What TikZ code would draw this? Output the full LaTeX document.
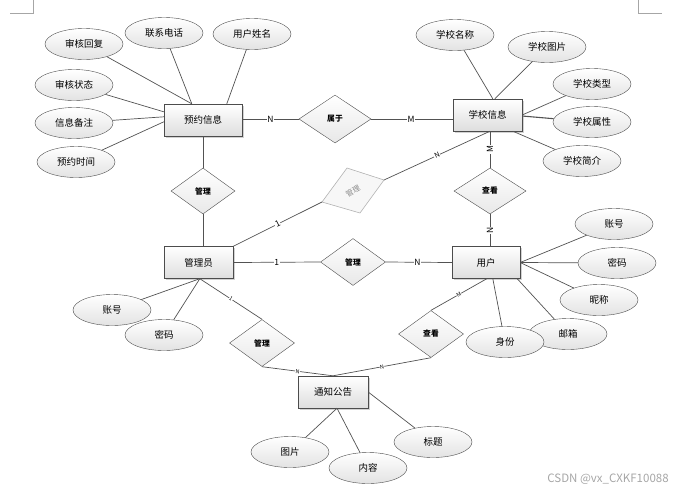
\documentclass[tikz,border=0pt]{standalone}
\usepackage{fontspec}
\setmainfont{Noto Sans CJK SC}
\usetikzlibrary{shapes.geometric,shadows}
\begin{document}
\begin{tikzpicture}[x=1pt,y=-1pt,
  ent/.style={draw=black!70, rectangle, minimum width=69pt, minimum height=32pt, inner sep=0pt,
    top color=white, bottom color=black!13, drop shadow={shadow xshift=1.5pt, shadow yshift=-1.5pt, fill=black!35},
    font=\fontsize{9.5}{11}\selectfont},
  attr/.style={draw=black!70, ellipse, minimum width=78pt, minimum height=31pt, inner sep=0pt,
    top color=white, bottom color=black!11, font=\fontsize{9.5}{11}\selectfont},
  rel/.style={draw=black!70, diamond, minimum width=65pt, minimum height=47pt, inner sep=0pt,
    top color=white, bottom color=black!9, font=\fontsize{7.8}{9}\selectfont\bfseries},
  conn/.style={draw=black!68, line width=0.7pt},
  lab/.style={fill=white, inner sep=0.6pt, font=\fontsize{8.5}{10}\selectfont},
  slab/.style={fill=white, inner sep=0.3pt, font=\fontsize{5.5}{6}\selectfont, sloped},
  corner/.style={draw=black!35, line width=0.5pt}
]
\useasboundingbox (0,0) rectangle (684,493);
% page corner marks
\draw[corner] (10,13) -- (33,13) -- (33,0);
\draw[corner] (638,0) -- (638,13) -- (662,13);

% entities
\node[ent, minimum width=78pt] (yy) at (203,120) {预约信息};
\node[ent] (xx) at (487.5,115) {学校信息};
\node[ent] (gly) at (198.5,262.5) {管理员};
\node[ent, minimum width=68pt] (yh) at (486,262.5) {用户};
\node[ent, minimum width=70pt] (tz) at (333,392) {通知公告};

% relationships
\node[rel, minimum width=72pt, minimum height=48pt] (ds) at (335,119) {属于};
\node[rel, minimum width=64pt, minimum height=46pt] (d1) at (203,191) {管理};
\node[rel, minimum width=72pt, minimum height=46pt] (c1) at (490,191) {查看};
\node[rel] (d2) at (353,262) {管理};
\node[rel] (d5) at (431,334) {查看};
\node[rel] (d4) at (262,343) {管理};

% grey tilted diamond
\coordinate (gl) at (322,202);
\coordinate (gt) at (347,168);
\coordinate (gr) at (384,180);
\coordinate (gb) at (360,213);
\filldraw[draw=black!30, fill=black!3, line width=0.6pt] (gl) -- (gt) -- (gr) -- (gb) -- cycle;
\node[text=black!45, rotate=30, inner sep=0pt, font=\fontsize{7.5}{9}\selectfont] (gd) at (353,191) {管理};

% attributes
\node[attr] (a1) at (84,44) {审核回复};
\node[attr] (a2) at (164,33) {联系电话};
\node[attr] (a3) at (252,34) {用户姓名};
\node[attr] (a4) at (74,85) {审核状态};
\node[attr] (a5) at (74,123) {信息备注};
\node[attr] (a6) at (76,162) {预约时间};
\node[attr] (b1) at (455,35) {学校名称};
\node[attr] (b2) at (547,47) {学校图片};
\node[attr] (b3) at (592,84) {学校类型};
\node[attr] (b4) at (592,122) {学校属性};
\node[attr] (b5) at (582,161) {学校简介};
\node[attr] (u1) at (614,224) {账号};
\node[attr] (u2) at (617,263) {密码};
\node[attr] (u3) at (599,300) {昵称};
\node[attr] (u4) at (568,334) {邮箱};
\node[attr] (g1) at (112,310) {账号};
\node[attr] (g2) at (164,335) {密码};
\node[attr] (t1) at (290,452) {图片};
\node[attr] (t2) at (368,468) {内容};
\node[attr] (t3) at (433,442) {标题};

% attribute connectors
\draw[conn] (a1) -- ([xshift=28pt]yy.north west);
\draw[conn] (a2) -- ([xshift=28pt]yy.north west);
\draw[conn] (a3) -- ([xshift=63pt]yy.north west);
\draw[conn] (a4) -- ([yshift=-8pt]yy.north west);
\draw[conn] (a5) -- ([yshift=-13pt]yy.north west);
\draw[conn] (a6) -- ([yshift=-18pt]yy.north west);
\draw[conn] (b1) -- ([xshift=40pt]xx.north west);
\draw[conn] (b2) -- ([xshift=42pt]xx.north west);
\draw[conn] (b3) -- (xx.east);
\draw[conn, line width=1.1pt] (b4) -- ([yshift=-1pt]xx.east);
\draw[conn] (b5) -- ([xshift=60pt]xx.south west);
\draw[conn] (u1) -- (yh.east);
\draw[conn] (u2) -- (yh.east);
\draw[conn] (u3) -- (yh.east);
\draw[conn] (u4) -- ([xshift=-3pt]yh.south east);
\draw[conn] (g1) -- ([xshift=36pt]gly.south west);
\draw[conn] (g2) -- ([xshift=36pt]gly.south west);
\draw[conn] (t1) -- ([xshift=4pt]tz.south);
\draw[conn] (t2) -- ([xshift=4pt]tz.south);
\draw[conn] (t3) -- (tz.east);
\node[attr] (u5) at (505,342) {身份};
\draw[conn] (u5) -- ([xshift=41pt]yh.south west);

% relationship connectors
\draw[conn] (yy.east |- ds.west) -- node[lab]{N} (ds.west);
\draw[conn] (ds.east) -- node[lab, pos=0.49]{M} (xx.west |- ds.east);
\draw[conn] (yy.south) -- (d1.north);
\draw[conn] (d1.south) -- ([xshift=4.5pt]gly.north);
\draw[conn] ([xshift=2.5pt]xx.south) -- node[lab, rotate=90]{M} (c1.north);
\draw[conn] (c1.south) -- node[lab, rotate=90]{N} ([xshift=4pt]yh.north);
\draw[conn] ([xshift=2.5pt]xx.south) -- node[lab, sloped, font=\fontsize{7}{8}\selectfont]{N} (gr);
\draw[conn] (gl) -- node[lab, sloped]{1} (gly.north east);
\draw[conn] (gly.east) -- node[lab]{1} (d2.west);
\draw[conn] (d2.east) -- node[lab, pos=0.48]{N} (yh.west);
\draw[conn] ([xshift=36pt]gly.south west) -- node[slab]{1} (d4.north);
\draw[conn] (d4.south) -- node[slab]{N} (tz.north);
\draw[conn] ([xshift=35pt]yh.south west) -- node[slab]{M} (d5.north);
\draw[conn] (d5.south) -- node[slab]{N} (tz.north);

% watermark
\node[text=black!35, font=\fontsize{11.5}{13}\selectfont, inner sep=0pt] (wm) at (608,479) {CSDN @vx\_CXKF10088};
\end{tikzpicture}
\end{document}
